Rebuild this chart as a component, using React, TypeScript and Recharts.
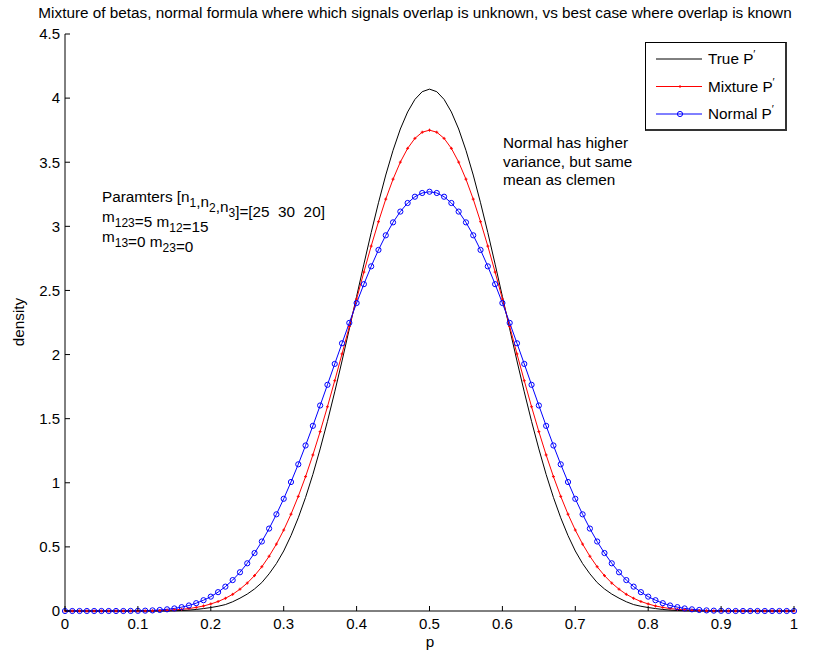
import React from 'react'
import { LineChart, Line, XAxis, YAxis, Legend } from 'recharts'

const FONT = '"Liberation Sans", Arial, Helvetica, sans-serif'
const TEXT_SIZE = 15.3

// p grid, 0..1 in steps of 0.01
const pValues = [
  0, 0.01, 0.02, 0.03, 0.04, 0.05, 0.06, 0.07, 0.08, 0.09,
  0.1, 0.11, 0.12, 0.13, 0.14, 0.15, 0.16, 0.17, 0.18, 0.19,
  0.2, 0.21, 0.22, 0.23, 0.24, 0.25, 0.26, 0.27, 0.28, 0.29,
  0.3, 0.31, 0.32, 0.33, 0.34, 0.35, 0.36, 0.37, 0.38, 0.39,
  0.4, 0.41, 0.42, 0.43, 0.44, 0.45, 0.46, 0.47, 0.48, 0.49,
  0.5, 0.51, 0.52, 0.53, 0.54, 0.55, 0.56, 0.57, 0.58, 0.59,
  0.6, 0.61, 0.62, 0.63, 0.64, 0.65, 0.66, 0.67, 0.68, 0.69,
  0.7, 0.71, 0.72, 0.73, 0.74, 0.75, 0.76, 0.77, 0.78, 0.79,
  0.8, 0.81, 0.82, 0.83, 0.84, 0.85, 0.86, 0.87, 0.88, 0.89,
  0.9, 0.91, 0.92, 0.93, 0.94, 0.95, 0.96, 0.97, 0.98, 0.99,
  1,
]

const trueP = [
  0, 0, 0, 0, 0, 0, 0, 0, 0, 0,
  0, 0, 0, 0.0005, 0.001, 0.002, 0.004, 0.007, 0.012, 0.019,
  0.027, 0.037, 0.05, 0.072, 0.1, 0.132, 0.172, 0.222, 0.29, 0.37,
  0.468, 0.588, 0.727, 0.886, 1.065, 1.264, 1.479, 1.709, 1.95, 2.2,
  2.453, 2.705, 2.951, 3.184, 3.4, 3.593, 3.759, 3.892, 3.99, 4.05,
  4.07, 4.05, 3.99, 3.892, 3.759, 3.593, 3.4, 3.184, 2.951, 2.705,
  2.453, 2.2, 1.95, 1.709, 1.479, 1.264, 1.065, 0.886, 0.727, 0.588,
  0.468, 0.37, 0.29, 0.222, 0.172, 0.132, 0.1, 0.072, 0.05, 0.037,
  0.027, 0.019, 0.012, 0.007, 0.004, 0.002, 0.001, 0.0005, 0, 0,
  0, 0, 0, 0, 0, 0, 0, 0, 0, 0,
  0,
]

const mixtureP = [
  0, 0, 0, 0, 0, 0, 0, 0, 0.0001, 0.0003,
  0.0006, 0.0011, 0.0019, 0.0032, 0.0055, 0.0086, 0.013, 0.019, 0.028, 0.039,
  0.055, 0.074, 0.099, 0.13, 0.17, 0.218, 0.276, 0.345, 0.427, 0.522,
  0.631, 0.755, 0.894, 1.048, 1.217, 1.399, 1.593, 1.796, 2.005, 2.219,
  2.433, 2.643, 2.846, 3.036, 3.212, 3.368, 3.501, 3.608, 3.686, 3.734,
  3.75, 3.734, 3.686, 3.608, 3.501, 3.368, 3.212, 3.036, 2.846, 2.643,
  2.433, 2.219, 2.005, 1.796, 1.593, 1.399, 1.217, 1.048, 0.894, 0.755,
  0.631, 0.522, 0.427, 0.345, 0.276, 0.218, 0.17, 0.13, 0.099, 0.074,
  0.055, 0.039, 0.028, 0.019, 0.013, 0.0086, 0.0055, 0.0032, 0.0019, 0.0011,
  0.0006, 0.0003, 0.0001, 0, 0, 0, 0, 0, 0, 0,
  0,
]

const normalP = [
  0, 0, 0, 0, 0, 0, 0, 0, 0, 0.0007,
  0.0014, 0.0027, 0.0048, 0.0081, 0.013, 0.02, 0.03, 0.043, 0.061, 0.084,
  0.112, 0.147, 0.19, 0.241, 0.302, 0.372, 0.452, 0.542, 0.643, 0.754,
  0.875, 1.006, 1.144, 1.291, 1.444, 1.603, 1.764, 1.927, 2.088, 2.247,
  2.402, 2.549, 2.688, 2.816, 2.93, 3.031, 3.115, 3.182, 3.231, 3.26,
  3.27, 3.26, 3.231, 3.182, 3.115, 3.031, 2.93, 2.816, 2.688, 2.549,
  2.402, 2.247, 2.088, 1.927, 1.764, 1.603, 1.444, 1.291, 1.144, 1.006,
  0.875, 0.754, 0.643, 0.542, 0.452, 0.372, 0.302, 0.241, 0.19, 0.147,
  0.112, 0.084, 0.061, 0.043, 0.03, 0.02, 0.013, 0.0081, 0.0048, 0.0027,
  0.0014, 0.0007, 0, 0, 0, 0, 0, 0, 0, 0,
  0,
]

const xTicks = [0, 0.1, 0.2, 0.3, 0.4, 0.5, 0.6, 0.7, 0.8, 0.9, 1]
const yTicks = [0, 0.5, 1, 1.5, 2, 2.5, 3, 3.5, 4, 4.5]
const legendOrder = ['trueP', 'mixture', 'normal']

const data = pValues.map((p, i) => ({
  p,
  trueP: trueP[i],
  mixture: mixtureP[i],
  normal: normalP[i],
}))

// MATLAB style ticks: labels outside, tick marks pointing into the box
const BottomTick = ({ x, y, payload }: any) => (
  <g>
    <line x1={x} y1={y - 7} x2={x} y2={y - 12} stroke="#000" />
    <text x={x} y={y} dy="0.71em" textAnchor="middle" fontSize={15} fontFamily={FONT} fill="#000">
      {payload.value}
    </text>
  </g>
)

const LeftTick = ({ x, y, payload }: any) => (
  <g>
    <line x1={x + 5} y1={y} x2={x + 10} y2={y} stroke="#000" />
    <text x={x} y={y} dy="0.355em" textAnchor="end" fontSize={15} fontFamily={FONT} fill="#000">
      {payload.value}
    </text>
  </g>
)

const TopTick = ({ x, y }: any) => <line x1={x} y1={y} x2={x} y2={y + 5} stroke="#000" />
const RightTick = ({ x, y }: any) => <line x1={x} y1={y} x2={x - 5} y2={y} stroke="#000" />

const PlusDot = ({ cx, cy }: any) => (
  <path d={`M${cx - 1.5},${cy}h3M${cx},${cy - 1.5}v3`} stroke="#ff0000" strokeWidth={1} fill="none" />
)

const Prime = () => (
  <tspan fontSize={11} dy={-6}>′</tspan>
)

const MatlabLegend = ({ payload }: any) => {
  const items = [...(payload || [])].sort(
    (a: any, b: any) => legendOrder.indexOf(a.dataKey) - legendOrder.indexOf(b.dataKey)
  )
  return (
    <div style={{ width: 142, height: 89, border: '1px solid #000', borderRight: '2px solid #333', borderBottom: '2px solid #333', background: '#fff', boxSizing: 'border-box' }}>
      <svg width={139} height={86} style={{ display: 'block' }}>
        {items.map((entry: any, i: number) => {
          const cy = 16 + i * 27.5
          return (
            <g key={entry.dataKey ?? i}>
              <line x1={10} x2={56} y1={cy} y2={cy} stroke={entry.color} />
              {entry.dataKey === 'mixture' && (
                <path d={`M32.5,${cy}h3M34,${cy - 1.5}v3`} stroke="#ff0000" />
              )}
              {entry.dataKey === 'normal' && (
                <circle cx={34} cy={cy} r={2.6} stroke="#0000ff" fill="none" />
              )}
              <text x={62} y={cy} dy="0.355em" fontSize={TEXT_SIZE} fontFamily={FONT} fill="#000">
                {entry.value}
                <Prime />
              </text>
            </g>
          )
        })}
      </svg>
    </div>
  )
}

const Sub = ({ children }: any) => (
  <>
    <tspan fontSize={12} dy={5}>{children}</tspan>
    <tspan dy={-5} />
  </>
)

export default function App() {
  return (
    <div style={{ position: 'absolute', left: 0, top: 0, width: 822, height: 656, background: '#fff' }}>
      <LineChart width={822} height={656} data={data} margin={{ top: 34, right: 28, bottom: 15, left: 0 }}>
        <XAxis
          dataKey="p"
          type="number"
          domain={[0, 1]}
          ticks={xTicks}
          interval={0}
          height={30}
          tickSize={0}
          tickMargin={7}
          tickLine={false}
          axisLine={{ stroke: '#000' }}
          tick={<BottomTick />}
        />
        <XAxis
          xAxisId="top"
          dataKey="p"
          type="number"
          orientation="top"
          domain={[0, 1]}
          ticks={xTicks}
          interval={0}
          height={0}
          tickSize={0}
          tickMargin={0}
          tickLine={false}
          axisLine={{ stroke: '#000' }}
          tick={<TopTick />}
        />
        <YAxis
          type="number"
          domain={[0, 4.5]}
          ticks={yTicks}
          interval={0}
          width={65}
          tickSize={0}
          tickMargin={5}
          tickLine={false}
          axisLine={{ stroke: '#000' }}
          tick={<LeftTick />}
        />
        <YAxis
          yAxisId="right"
          type="number"
          orientation="right"
          domain={[0, 4.5]}
          ticks={yTicks}
          interval={0}
          width={0}
          tickSize={0}
          tickMargin={0}
          tickLine={false}
          axisLine={{ stroke: '#000' }}
          tick={<RightTick />}
        />
        <Legend
          layout="vertical"
          align="center"
          verticalAlign="middle"
          wrapperStyle={{ left: 645, top: 42, width: 142, height: 89 }}
          content={<MatlabLegend />}
        />
        <Line
          type="linear"
          dataKey="trueP"
          name="True P"
          stroke="#000000"
          strokeWidth={1}
          dot={false}
          activeDot={false}
          isAnimationActive={false}
        />
        <Line
          type="linear"
          dataKey="mixture"
          name="Mixture P"
          stroke="#ff0000"
          strokeWidth={1}
          dot={<PlusDot />}
          activeDot={false}
          isAnimationActive={false}
        />
        <Line
          type="linear"
          dataKey="normal"
          name="Normal P"
          stroke="#0000ff"
          strokeWidth={1}
          dot={{ r: 2.6, stroke: '#0000ff', strokeWidth: 1, fill: 'none' }}
          activeDot={false}
          isAnimationActive={false}
        />
      </LineChart>

      <svg
        width={822}
        height={656}
        style={{ position: 'absolute', left: 0, top: 0, pointerEvents: 'none' }}
        fontFamily={FONT}
        fontSize={TEXT_SIZE}
        fill="#000"
      >
        <text x={415} y={18} textAnchor="middle">
          Mixture of betas, normal formula where which signals overlap is unknown, vs best case where overlap is known
        </text>
        <text x={430} y={647} textAnchor="middle">p</text>
        <text transform="translate(24,322) rotate(-90)" textAnchor="middle">density</text>

        <text x={102} y={202} style={{ whiteSpace: 'pre' }}>
          Paramters [n<Sub>1</Sub>,n<Sub>2</Sub>,n<Sub>3</Sub>]=[25  30  20]
        </text>
        <text x={102} y={222}>
          m<Sub>123</Sub>=5 m<Sub>12</Sub>=15
        </text>
        <text x={102} y={242}>
          m<Sub>13</Sub>=0 m<Sub>23</Sub>=0
        </text>

        <text x={503} y={148}>Normal has higher</text>
        <text x={503} y={166.5}>variance, but same</text>
        <text x={503} y={185}>mean as clemen</text>
      </svg>
    </div>
  )
}
